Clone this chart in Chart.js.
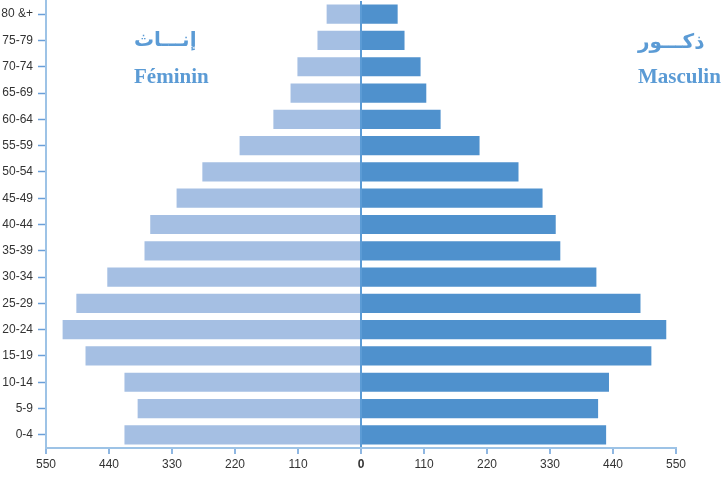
<!DOCTYPE html>
<html>
<head>
<meta charset="utf-8">
<script src="https://cdn.jsdelivr.net/npm/chart.js@4"></script>
<style>
  body { margin: 0; background: #fff; }
  #wrap { position: relative; width: 722px; height: 477px; }
  .lbl { position: absolute; color: #5B9BD5; font-weight: bold; white-space: nowrap; line-height: 20px; }
  .fr { font-family: "Liberation Serif", "Times New Roman", serif; font-size: 21px; }
  .ar { font-family: "DejaVu Sans", sans-serif; font-size: 20px; }
</style>
</head>
<body>
<div id="wrap">
  <canvas id="pyramid" width="722" height="477"></canvas>
  <div class="lbl ar" style="left:134px; top:29px;" dir="rtl">إنـــاث</div>
  <div class="lbl fr" style="left:134px; top:66px;">Féminin</div>
  <div class="lbl ar" style="left:638px; top:31px;" dir="rtl">ذكـــور</div>
  <div class="lbl fr" style="left:638px; top:66px;">Masculin</div>
</div>
<script>
// age groups, top of the pyramid first
const ageGroups = ['80 &+', '75-79', '70-74', '65-69', '60-64', '55-59', '50-54', '45-49',
                   '40-44', '35-39', '30-34', '25-29', '20-24', '15-19', '10-14', '5-9', '0-4'];
const femaleValues = [60, 76, 111, 123, 153, 212, 277, 322, 368, 378, 443, 497, 521, 481, 413, 390, 413];
const maleValues   = [64, 76, 104, 114, 139, 207, 275, 317, 340, 348, 411, 488, 533, 507, 433, 414, 428];
const axisMax = 550;
const tickStep = 110;

const blueTick = '#6A9FD8';
const axisLine = '#9DC3E6';

new Chart(document.getElementById('pyramid').getContext('2d'), {
    type: 'bar',
    data: {
        labels: ageGroups,
        datasets: [{
            label: 'Féminin',
            // females go to the left, so negate them
            data: femaleValues.map(v => -v),
            backgroundColor: '#A5BFE3'
        }, {
            label: 'Masculin',
            data: maleValues,
            backgroundColor: '#4F91CD'
        }]
    },
    options: {
        indexAxis: 'y',
        responsive: false,
        animation: false,
        categoryPercentage: 1,
        barPercentage: 0.73,
        layout: { padding: { top: 1, right: 46, left: 0, bottom: 0 } },
        plugins: {
            legend: { display: false },
            tooltip: { enabled: false }
        },
        scales: {
            x: {
                stacked: true,
                min: -axisMax,
                max: axisMax,
                z: 1,
                afterFit: (scale) => { scale.height = 29; },
                border: { color: axisLine, width: 2 },
                grid: {
                    color: (ctx) => (ctx.tick && ctx.tick.value === 0) ? '#5B9BD5' : 'rgba(0,0,0,0)',
                    lineWidth: 2,
                    tickColor: blueTick,
                    tickLength: 6,
                    tickWidth: 1.5
                },
                ticks: {
                    stepSize: tickStep,
                    padding: 3,
                    color: '#333',
                    font: (ctx) => ({
                        family: 'Liberation Sans',
                        size: 12,
                        weight: (ctx.tick && ctx.tick.value === 0) ? 'bold' : 'normal'
                    }),
                    maxRotation: 0,
                    callback: (v) => Math.abs(v)
                }
            },
            y: {
                stacked: true,
                afterFit: (scale) => {
                    scale.width = 46;
                    // no extra room for the label halves above and below
                    scale.paddingTop = 0;
                    scale.paddingBottom = 0;
                },
                border: { color: axisLine, width: 2 },
                grid: {
                    offset: false,
                    drawOnChartArea: false,
                    tickColor: blueTick,
                    tickLength: 8,
                    tickWidth: 1.5
                },
                ticks: {
                    padding: 5,
                    color: '#333',
                    font: { family: 'Liberation Sans', size: 12 }
                }
            }
        }
    }
});
</script>
</body>
</html>
